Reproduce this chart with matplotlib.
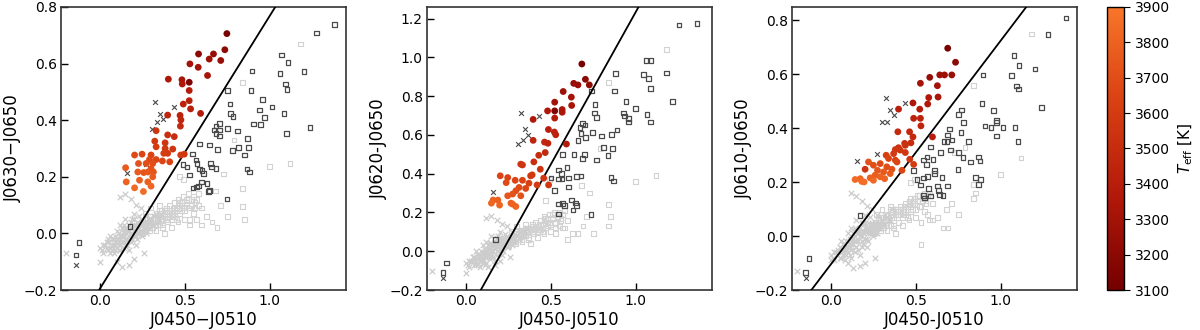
import numpy as np
import matplotlib
matplotlib.use("Agg")
import matplotlib.pyplot as plt
from matplotlib.colors import LinearSegmentedColormap, Normalize

# ---- M dwarfs (coloured by Teff) ----
md1_x = [0.748, 0.736, 0.581, 0.669, 0.644, 0.712, 0.530, 0.579, 0.634, 0.403, 0.483, 0.526, 0.485, 0.526,
         0.526, 0.491, 0.534, 0.593, 0.399, 0.472, 0.477, 0.474, 0.331, 0.399, 0.438, 0.323, 0.384, 0.331,
         0.384, 0.429, 0.376, 0.399, 0.204, 0.248, 0.301, 0.292, 0.331, 0.368, 0.411, 0.476, 0.497, 0.227,
         0.311, 0.272, 0.151, 0.301, 0.223, 0.258, 0.282, 0.315, 0.155, 0.233, 0.282, 0.301, 0.256, 0.204, 0.311]
md1_y = [0.706, 0.649, 0.634, 0.634, 0.616, 0.611, 0.599, 0.587, 0.558, 0.545, 0.543, 0.534, 0.528, 0.505,
         0.469, 0.457, 0.440, 0.424, 0.418, 0.417, 0.401, 0.379, 0.363, 0.348, 0.342, 0.326, 0.320, 0.306,
         0.300, 0.298, 0.283, 0.283, 0.277, 0.280, 0.277, 0.261, 0.261, 0.256, 0.253, 0.277, 0.280, 0.247,
         0.247, 0.247, 0.232, 0.229, 0.217, 0.215, 0.217, 0.217, 0.182, 0.188, 0.182, 0.167, 0.148, 0.161, 0.200]
md1_t = [3120, 3200, 3200, 3250, 3280, 3250, 3300, 3300, 3320, 3350, 3330, 3150, 3350, 3380,
         3400, 3420, 3400, 3380, 3450, 3420, 3450, 3480, 3550, 3520, 3500, 3580, 3560, 3600,
         3580, 3560, 3620, 3600, 3680, 3660, 3640, 3680, 3660, 3650, 3640, 3600, 3580, 3720,
         3700, 3700, 3760, 3720, 3760, 3740, 3750, 3730, 3800, 3780, 3790, 3820, 3850, 3830, 3760]

md2_x = [0.683, 0.704, 0.727, 0.635, 0.660, 0.573, 0.621, 0.523, 0.623, 0.481, 0.523, 0.567, 0.567, 0.523,
         0.396, 0.486, 0.521, 0.529, 0.396, 0.463, 0.483, 0.592, 0.467, 0.429, 0.400, 0.323, 0.333, 0.438,
         0.390, 0.381, 0.202, 0.246, 0.458, 0.290, 0.333, 0.237, 0.371, 0.419, 0.487, 0.313, 0.352, 0.294,
         0.246, 0.275, 0.323, 0.160, 0.188, 0.150, 0.198, 0.265, 0.294, 0.275]
md2_y = [0.966, 0.887, 0.858, 0.866, 0.858, 0.824, 0.795, 0.769, 0.752, 0.724, 0.724, 0.731, 0.717, 0.687,
         0.680, 0.628, 0.615, 0.601, 0.572, 0.563, 0.557, 0.553, 0.509, 0.495, 0.461, 0.449, 0.445, 0.423,
         0.394, 0.389, 0.389, 0.380, 0.377, 0.366, 0.366, 0.354, 0.351, 0.342, 0.342, 0.329, 0.324, 0.312,
         0.286, 0.295, 0.286, 0.264, 0.264, 0.248, 0.238, 0.248, 0.231, 0.243]
md2_t = [3120, 3200, 3220, 3250, 3250, 3280, 3300, 3300, 3320, 3350, 3150, 3330, 3340, 3380,
         3350, 3400, 3420, 3420, 3450, 3460, 3450, 3380, 3480, 3500, 3520, 3550, 3550, 3540,
         3580, 3580, 3650, 3640, 3560, 3650, 3640, 3680, 3620, 3600, 3580, 3680, 3660, 3700,
         3740, 3720, 3720, 3800, 3790, 3820, 3810, 3780, 3820, 3800]

md3_x = [0.688, 0.734, 0.582, 0.641, 0.669, 0.712, 0.527, 0.627, 0.576, 0.631, 0.570, 0.483, 0.398, 0.523,
         0.487, 0.527, 0.530, 0.394, 0.463, 0.483, 0.598, 0.471, 0.434, 0.398, 0.379, 0.438, 0.408, 0.438,
         0.369, 0.325, 0.339, 0.379, 0.389, 0.464, 0.221, 0.250, 0.290, 0.329, 0.359, 0.418, 0.487, 0.201,
         0.274, 0.310, 0.349, 0.260, 0.290, 0.231, 0.172, 0.142, 0.181, 0.250, 0.316, 0.195]
md3_y = [0.697, 0.645, 0.589, 0.598, 0.598, 0.598, 0.567, 0.558, 0.514, 0.516, 0.490, 0.494, 0.471, 0.471,
         0.437, 0.437, 0.409, 0.387, 0.387, 0.368, 0.368, 0.346, 0.344, 0.328, 0.321, 0.337, 0.319, 0.310,
         0.306, 0.300, 0.288, 0.282, 0.275, 0.285, 0.275, 0.263, 0.269, 0.257, 0.248, 0.244, 0.266, 0.248,
         0.244, 0.238, 0.232, 0.226, 0.220, 0.216, 0.213, 0.210, 0.203, 0.207, 0.213, 0.201]
md3_t = [3120, 3200, 3250, 3280, 3280, 3260, 3300, 3300, 3350, 3330, 3360, 3350, 3400, 3380,
         3420, 3420, 3450, 3480, 3470, 3480, 3400, 3500, 3520, 3540, 3560, 3530, 3560, 3570,
         3590, 3620, 3640, 3640, 3650, 3560, 3720, 3700, 3680, 3700, 3700, 3660, 3600, 3550,
         3740, 3750, 3760, 3780, 3800, 3800, 3820, 3840, 3850, 3830, 3800, 3860]

# ---- other sources, dark open squares ----
sq1_x = [1.070, 1.108, 1.061, 1.092, 1.102, 0.896, 0.890, 0.750, 0.767, 0.785, 0.771, 0.959, 1.013, 0.939,
         0.971, 0.947, 0.904, 1.084, 1.100, 0.869, 0.875, 0.853, 0.866, 0.882, 0.810, 0.818, 0.781, 0.753,
         0.703, 0.683, 0.673, 0.706, 0.683, 0.706, 0.585, 0.646, 0.693, 0.546, 0.566, 0.571, 0.585, 0.601,
         0.609, 0.652, 0.656, 0.683, 0.489, 0.513, 0.526, 0.548, 0.581, 0.569, 0.632, 0.644, 0.638, 0.748,
         0.597, 0.176, -0.123, -0.141, 1.384, 1.276, 1.202, 1.237]
sq1_y = [0.631, 0.604, 0.564, 0.528, 0.509, 0.574, 0.505, 0.505, 0.457, 0.413, 0.424, 0.474, 0.446, 0.436,
         0.410, 0.384, 0.387, 0.424, 0.353, 0.336, 0.303, 0.277, 0.227, 0.217, 0.362, 0.304, 0.294, 0.371,
         0.389, 0.379, 0.365, 0.365, 0.353, 0.344, 0.316, 0.312, 0.297, 0.280, 0.259, 0.247, 0.227, 0.223,
         0.212, 0.247, 0.235, 0.229, 0.243, 0.235, 0.206, 0.161, 0.167, 0.164, 0.176, 0.152, 0.147, 0.121,
         0.181, 0.025, -0.032, -0.077, 0.738, 0.708, 0.572, 0.374]

sq2_x = [1.362, 1.256, 1.062, 1.090, 1.046, 1.077, 1.183, 1.087, 0.883, 0.875, 1.217, 0.944, 0.998, 0.740,
         0.760, 0.756, 0.769, 0.929, 0.935, 0.958, 0.958, 1.067, 1.087, 0.688, 0.702, 0.671, 0.679, 0.706,
         0.660, 0.746, 0.798, 0.858, 0.890, 0.810, 0.863, 0.637, 0.700, 0.688, 0.769, 0.838, 0.569, 0.544,
         0.562, 0.596, 0.502, 0.544, 0.567, 0.606, 0.606, 0.650, 0.679, 0.521, 0.856, 0.871, 0.544, 0.569,
         0.579, 0.621, 0.646, 0.650, 0.631, 0.737, 0.544, 0.175, -0.115, -0.135]
sq2_y = [1.176, 1.168, 0.985, 0.985, 0.911, 0.890, 0.920, 0.841, 0.918, 0.827, 0.774, 0.771, 0.735, 0.827,
         0.757, 0.714, 0.690, 0.714, 0.697, 0.685, 0.666, 0.705, 0.666, 0.659, 0.652, 0.637, 0.606, 0.586,
         0.572, 0.611, 0.594, 0.603, 0.625, 0.534, 0.531, 0.500, 0.500, 0.479, 0.471, 0.495, 0.500, 0.420,
         0.402, 0.432, 0.377, 0.372, 0.372, 0.378, 0.332, 0.385, 0.389, 0.312, 0.380, 0.363, 0.243, 0.247,
         0.235, 0.265, 0.248, 0.235, 0.212, 0.188, 0.192, 0.060, -0.060, -0.111]

sq3_x = [1.385, 1.278, 1.079, 1.108, 1.203, 1.063, 1.095, 1.105, 1.241, 0.897, 0.890, 0.957, 0.974, 0.974,
         0.943, 0.907, 1.014, 1.085, 0.974, 1.103, 0.769, 0.750, 0.781, 0.698, 0.767, 0.688, 0.684, 0.712,
         0.809, 0.665, 0.586, 0.645, 0.704, 0.753, 0.777, 0.822, 0.871, 0.878, 0.852, 0.882, 0.868, 0.748,
         0.546, 0.566, 0.600, 0.562, 0.609, 0.611, 0.487, 0.507, 0.527, 0.546, 0.570, 0.655, 0.576, 0.629,
         0.688, 0.635, 0.641, 0.546, 0.550, 0.586, 0.661, 0.172, -0.130, -0.150]
sq3_y = [0.809, 0.747, 0.669, 0.633, 0.620, 0.596, 0.557, 0.546, 0.476, 0.598, 0.493, 0.465, 0.428, 0.422,
         0.402, 0.409, 0.402, 0.403, 0.372, 0.352, 0.468, 0.452, 0.421, 0.397, 0.385, 0.375, 0.352, 0.356,
         0.352, 0.350, 0.331, 0.310, 0.319, 0.310, 0.292, 0.275, 0.294, 0.278, 0.217, 0.210, 0.191, 0.248,
         0.282, 0.294, 0.285, 0.266, 0.244, 0.232, 0.244, 0.211, 0.189, 0.216, 0.220, 0.217, 0.176, 0.186,
         0.186, 0.170, 0.154, 0.151, 0.141, 0.149, 0.151, 0.077, -0.082, -0.136]

# ---- dark crosses ----
cr1_x = [0.325, 0.436, 0.354, 0.335, 0.370, 0.307, 0.272, 0.157, -0.141]
cr1_y = [0.463, 0.448, 0.421, 0.392, 0.404, 0.369, 0.245, 0.215, -0.111]
cr2_x = [0.323, 0.433, 0.348, 0.367, 0.337, 0.306, 0.160, -0.135]
cr2_y = [0.712, 0.697, 0.632, 0.601, 0.572, 0.551, 0.308, -0.139]
cr3_x = [0.323, 0.434, 0.345, 0.369, 0.302, 0.329, 0.152, 0.270, -0.150]
cr3_y = [0.514, 0.495, 0.466, 0.449, 0.424, 0.424, 0.278, 0.306, -0.156]

# ---- light grey background sample (same stars in every panel) ----
bgx_x = [-0.20, 0.00, 0.00, 0.02, 0.04, 0.05, 0.06, 0.07, 0.08, 0.09, 0.10, 0.10, 0.11, 0.12, 0.12, 0.13,
         0.14, 0.14, 0.15, 0.16, 0.16, 0.17, 0.18, 0.18, 0.19, 0.20, 0.20, 0.21, 0.22, 0.22, 0.23, 0.24,
         0.25, 0.26, 0.27, 0.28, 0.30, 0.32, 0.34, 0.36, 0.12, 0.15, 0.18, 0.21, 0.24, 0.13, 0.17, 0.20,
         0.10, 0.26, 0.03, 0.05, 0.07, 0.08, 0.09, 0.11, 0.11, 0.12, 0.13, 0.14, 0.15, 0.15, 0.16, 0.17,
         0.17, 0.18, 0.19, 0.19, 0.20, 0.21, 0.22, 0.23, 0.24, 0.25, 0.26, 0.27, 0.29, 0.31, 0.33, 0.35,
         0.01, 0.02, 0.04, 0.05, 0.06, 0.07, 0.08, 0.09, 0.10, 0.11, 0.12, 0.13, 0.14, 0.15, 0.16, 0.17,
         0.18, 0.19, 0.20, 0.21, 0.22, 0.23, 0.24, 0.25, 0.26, 0.27, 0.28, 0.29, 0.30, 0.31, 0.06, 0.09,
         0.12, 0.15, 0.18, 0.21, 0.24, 0.27, 0.14, 0.20]
bgx_y1 = [-0.07, -0.10, -0.05, -0.07, -0.03, -0.06, -0.01, -0.04, -0.07, -0.01, 0.01, -0.05, -0.03, 0.03,
          -0.06, -0.01, 0.01, -0.05, 0.05, -0.02, 0.01, -0.06, 0.00, 0.04, -0.02, 0.07, 0.01, -0.04, 0.04,
          0.00, 0.06, 0.01, -0.01, 0.04, 0.06, 0.01, 0.04, 0.06, 0.04, 0.07, 0.13, 0.14, 0.12, 0.10, 0.09,
          -0.12, -0.11, -0.09, -0.10, -0.07, -0.04, -0.02, -0.06, -0.02, -0.04, 0.00, -0.06, -0.02, 0.02,
          -0.01, -0.03, 0.02, -0.04, 0.01, 0.03, -0.03, 0.02, 0.05, -0.01, 0.03, -0.02, 0.02, 0.05, 0.03,
          0.01, 0.03, 0.05, 0.03, 0.07, 0.05,
          -0.06, -0.04, -0.05, -0.03, -0.05, -0.02, -0.04, -0.03, -0.02, -0.04, -0.01, -0.03, 0.00, -0.02,
          0.01, -0.01, 0.02, 0.00, 0.03, 0.01, 0.02, 0.00, 0.03, 0.01, 0.03, 0.02, 0.04, 0.02, 0.05, 0.03,
          -0.07, -0.06, -0.04, -0.04, -0.02, -0.01, 0.00, 0.00, 0.03, 0.05]
bgx_y2 = [-0.10, -0.11, -0.06, -0.08, -0.03, -0.07, 0.00, -0.04, -0.08, 0.00, 0.03, -0.05, -0.02, 0.05,
          -0.06, 0.01, 0.03, -0.04, 0.08, 0.00, 0.03, -0.05, 0.02, 0.07, 0.00, 0.10, 0.04, -0.02, 0.07,
          0.03, 0.09, 0.04, 0.02, 0.07, 0.10, 0.05, 0.08, 0.10, 0.08, 0.12, 0.17, 0.18, 0.16, 0.14, 0.13,
          -0.08, -0.07, -0.05, -0.06, -0.03, -0.05, -0.03, -0.06, -0.02, -0.04, 0.01, -0.07, -0.01, 0.03,
          0.00, -0.02, 0.04, -0.03, 0.03, 0.05, -0.02, 0.04, 0.08, 0.01, 0.06, 0.00, 0.05, 0.08, 0.06,
          0.04, 0.07, 0.09, 0.07, 0.11, 0.10,
          -0.07, -0.05, -0.05, -0.03, -0.05, -0.02, -0.03, -0.02, -0.01, -0.03, 0.00, -0.02, 0.01, 0.00,
          0.03, 0.01, 0.04, 0.02, 0.05, 0.03, 0.04, 0.03, 0.06, 0.04, 0.06, 0.05, 0.07, 0.05, 0.08, 0.07,
          -0.07, -0.05, -0.03, -0.03, 0.00, 0.01, 0.02, 0.03, 0.04, 0.07]
bgx_y3 = [-0.13, -0.09, -0.07, -0.09, -0.05, -0.08, -0.02, -0.05, -0.09, -0.02, 0.01, -0.06, -0.03, 0.03,
          -0.08, -0.01, 0.02, -0.06, 0.06, -0.02, 0.02, -0.07, 0.00, 0.05, -0.03, 0.08, 0.02, -0.04, 0.05,
          0.01, 0.07, 0.02, 0.00, 0.05, 0.08, 0.03, 0.06, 0.08, 0.06, 0.10, 0.16, 0.15, 0.13, 0.11, 0.10,
          -0.12, -0.11, -0.10, -0.10, -0.08, -0.06, -0.04, -0.07, -0.03, -0.05, -0.01, -0.07, -0.03, 0.01,
          -0.02, -0.04, 0.02, -0.05, 0.01, 0.03, -0.04, 0.02, 0.05, -0.01, 0.03, -0.02, 0.02, 0.05, 0.03,
          0.01, 0.04, 0.05, 0.04, 0.07, 0.06,
          -0.08, -0.06, -0.06, -0.04, -0.06, -0.03, -0.05, -0.04, -0.02, -0.04, -0.01, -0.03, 0.00, -0.02,
          0.01, 0.00, 0.02, 0.01, 0.03, 0.02, 0.03, 0.01, 0.04, 0.02, 0.04, 0.03, 0.05, 0.03, 0.06, 0.04,
          -0.08, -0.07, -0.05, -0.04, -0.02, -0.01, 0.01, 0.01, 0.03, 0.05]

bgs_x = [0.22, 0.24, 0.25, 0.26, 0.27, 0.28, 0.29, 0.30, 0.30, 0.31, 0.32, 0.33, 0.33, 0.34, 0.35, 0.36,
         0.36, 0.37, 0.38, 0.39, 0.40, 0.40, 0.41, 0.42, 0.43, 0.44, 0.44, 0.45, 0.46, 0.47, 0.48, 0.49,
         0.50, 0.51, 0.52, 0.53, 0.54, 0.55, 0.56, 0.58, 0.38, 0.42, 0.46, 0.35, 0.30, 0.27, 0.50, 0.53,
         0.57, 0.60, 0.47, 0.49, 0.63, 0.66, 0.71, 0.75, 0.84, 0.84, 0.85, 1.00, 1.12, 0.60, 0.69, 0.53,
         0.58, 0.73, 0.68, 0.79, 0.84, 1.18,
         0.25, 0.27, 0.28, 0.29, 0.31, 0.32, 0.34, 0.35, 0.37, 0.38, 0.39, 0.41, 0.42, 0.43, 0.45, 0.46,
         0.47, 0.48, 0.49, 0.51, 0.52, 0.54, 0.55, 0.56, 0.57, 0.29, 0.33, 0.36, 0.40, 0.44, 0.48, 0.52,
         0.31, 0.35, 0.39, 0.43, 0.47, 0.51, 0.37, 0.45]
bgs_y1 = [0.01, 0.03, 0.00, 0.04, 0.02, 0.05, 0.01, 0.03, 0.06, 0.02, 0.04, 0.07, 0.01, 0.05, 0.03, 0.08,
          0.05, 0.02, 0.06, 0.09, 0.04, 0.07, 0.10, 0.05, 0.08, 0.11, 0.06, 0.09, 0.12, 0.07, 0.10, 0.13,
          0.08, 0.11, 0.14, 0.09, 0.12, 0.07, 0.11, 0.14, 0.00, 0.02, 0.04, 0.10, 0.09, 0.07, 0.05, 0.03,
          0.05, 0.09, 0.20, 0.19, 0.06, 0.04, 0.10, 0.06, 0.16, 0.095, 0.05, 0.237, 0.248, 0.03, 0.02, 0.05,
          0.10, 0.21, 0.15, 0.33, 0.533, 0.669,
          0.02, 0.03, 0.02, 0.04, 0.03, 0.05, 0.04, 0.06, 0.05, 0.07, 0.05, 0.08, 0.07, 0.09, 0.08, 0.10,
          0.09, 0.11, 0.09, 0.10, 0.12, 0.10, 0.13, 0.09, 0.12, 0.06, 0.03, 0.07, 0.06, 0.07, 0.08, 0.09,
          0.05, 0.08, 0.08, 0.06, 0.11, 0.12, 0.03, 0.05]
bgs_y2 = [0.04, 0.06, 0.03, 0.07, 0.05, 0.08, 0.04, 0.07, 0.10, 0.06, 0.08, 0.11, 0.05, 0.09, 0.08, 0.12,
          0.10, 0.06, 0.11, 0.14, 0.09, 0.12, 0.15, 0.10, 0.13, 0.16, 0.11, 0.14, 0.18, 0.12, 0.15, 0.19,
          0.14, 0.17, 0.20, 0.15, 0.18, 0.13, 0.17, 0.21, 0.04, 0.07, 0.09, 0.14, 0.13, 0.10, 0.10, 0.09,
          0.12, 0.16, 0.26, 0.37, 0.09, 0.09, 0.18, 0.09, 0.24, 0.13, 0.18, 0.36, 0.39, 0.06, 0.13, 0.12,
          0.12, 0.30, 0.34, 0.53, 0.87, 1.04,
          0.05, 0.06, 0.05, 0.07, 0.07, 0.09, 0.08, 0.10, 0.10, 0.12, 0.10, 0.13, 0.12, 0.14, 0.14, 0.16,
          0.15, 0.17, 0.15, 0.17, 0.19, 0.17, 0.20, 0.16, 0.19, 0.09, 0.06, 0.11, 0.11, 0.12, 0.13, 0.15,
          0.09, 0.12, 0.13, 0.11, 0.17, 0.19, 0.07, 0.10]
bgs_y3 = [0.02, 0.04, 0.01, 0.05, 0.03, 0.06, 0.02, 0.04, 0.07, 0.03, 0.05, 0.08, 0.02, 0.06, 0.04, 0.09,
          0.07, 0.03, 0.08, 0.10, 0.05, 0.09, 0.11, 0.07, 0.10, 0.12, 0.08, 0.11, 0.13, 0.09, 0.12, 0.14,
          0.10, 0.13, 0.15, 0.11, 0.14, 0.09, 0.13, 0.16, 0.01, 0.04, 0.06, 0.11, 0.10, 0.08, 0.07, 0.05,
          0.08, 0.12, 0.20, 0.21, 0.07, 0.03, 0.12, 0.08, 0.19, 0.14, 0.16, 0.23, 0.29, 0.06, 0.03, -0.03,
          0.06, 0.31, 0.10, 0.33, 0.56, 0.75,
          0.03, 0.04, 0.03, 0.05, 0.05, 0.06, 0.06, 0.08, 0.07, 0.09, 0.08, 0.10, 0.09, 0.11, 0.10, 0.12,
          0.11, 0.13, 0.12, 0.13, 0.15, 0.13, 0.16, 0.12, 0.15, 0.07, 0.04, 0.09, 0.08, 0.09, 0.10, 0.11,
          0.07, 0.10, 0.10, 0.08, 0.14, 0.15, 0.04, 0.07]

# selection cut, one per panel (slope, intercept)
cut_slope = [0.963, 1.57, 0.829]
cut_icpt = [-0.195, -0.337, -0.104]

ylabels = ["J0630\u2212J0650", "J0620-J0650", "J0610-J0650"]
xlabels = ["J0450\u2212J0510", "J0450-J0510", "J0450-J0510"]
ylims = [(-0.2, 0.8), (-0.2, 1.26), (-0.2, 0.85)]
yticks = [[-0.2, 0.0, 0.2, 0.4, 0.6, 0.8],
          [-0.2, 0.0, 0.2, 0.4, 0.6, 0.8, 1.0, 1.2],
          [-0.2, 0.0, 0.2, 0.4, 0.6, 0.8]]

cmap = LinearSegmentedColormap.from_list("mdw", ["#740000", "#b3190a", "#d94012", "#f8762a"])
norm = Normalize(3100, 3900)

fig = plt.figure(figsize=(12, 3.3), dpi=100)
lefts = [0.0508, 0.3558, 0.66]

panels = [
    (md1_x, md1_y, md1_t, sq1_x, sq1_y, cr1_x, cr1_y, bgx_y1, bgs_y1),
    (md2_x, md2_y, md2_t, sq2_x, sq2_y, cr2_x, cr2_y, bgx_y2, bgs_y2),
    (md3_x, md3_y, md3_t, sq3_x, sq3_y, cr3_x, cr3_y, bgx_y3, bgs_y3),
]

for i, (mx, my, mt, sx, sy, cx, cy, bxy, bsy) in enumerate(panels):
    ax = fig.add_axes([lefts[i], 0.1212, 0.2375, 0.8576])
    ax.scatter(bgs_x, bsy, marker="s", s=12, facecolors="none", edgecolors="#d2d2d2", linewidths=0.8, zorder=1)
    ax.scatter(bgx_x, bxy, marker="x", s=16, color="#cccccc", linewidths=0.9, zorder=1)
    ax.scatter(sx, sy, marker="s", s=11, facecolors="none", edgecolors="#4a4a4a", linewidths=0.9, zorder=2)
    ax.scatter(cx, cy, marker="x", s=12, color="#4a4a4a", linewidths=0.8, zorder=2)
    ax.axline((0, cut_icpt[i]), slope=cut_slope[i], color="black", lw=1.3, zorder=3)
    sc = ax.scatter(mx, my, c=mt, cmap=cmap, norm=norm, s=24, edgecolors="none", zorder=4)
    ax.set_xlim(-0.23, 1.45)
    ax.set_ylim(*ylims[i])
    ax.set_xticks([0.0, 0.5, 1.0])
    ax.set_yticks(yticks[i])
    ax.tick_params(direction="in", labelsize=10, length=5, width=1, pad=3, top=False, right=False)
    for sp in ax.spines.values():
        sp.set_linewidth(1.2)
        sp.set_color("#333333")
    ax.set_xlabel(xlabels[i], fontsize=12, labelpad=2)
    ax.set_ylabel(ylabels[i], fontsize=12, labelpad=1)

cax = fig.add_axes([0.9225, 0.1212, 0.0142, 0.8576])
cb = fig.colorbar(sc, cax=cax)
cb.set_ticks([3100, 3200, 3300, 3400, 3500, 3600, 3700, 3800, 3900])
cb.ax.tick_params(labelsize=10, length=4)
cb.outline.set_linewidth(1.0)
cb.set_label(r"$T_{\rm eff}$ [K]", fontsize=11, labelpad=5)

fig.savefig("out.png", dpi=100)
